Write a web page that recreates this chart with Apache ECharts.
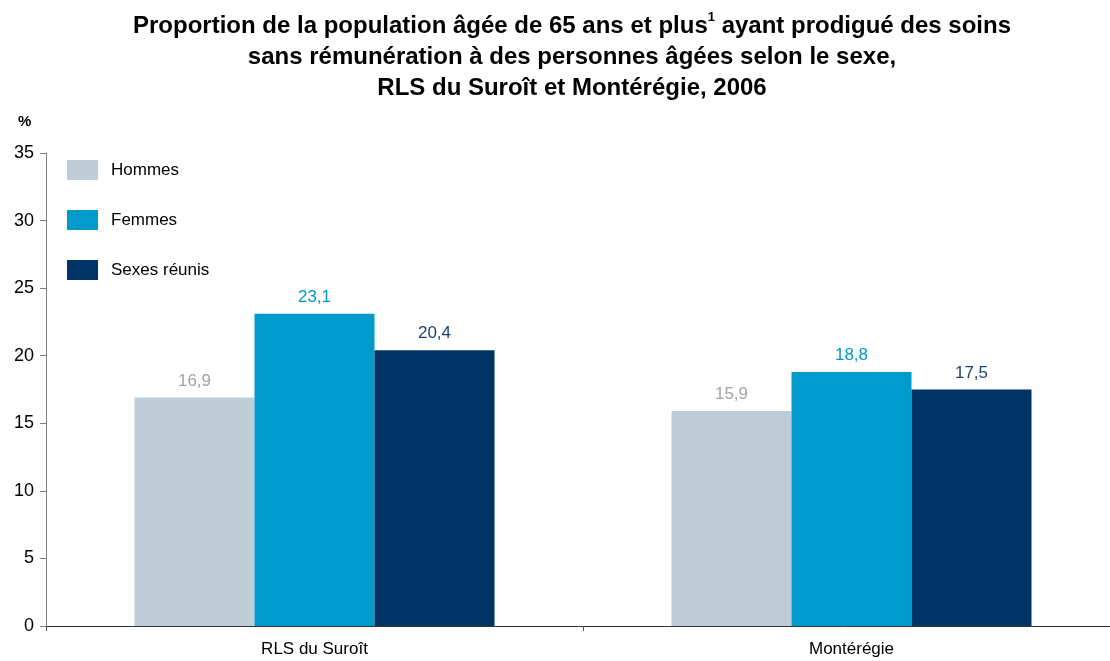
<!DOCTYPE html>
<html>
<head>
<meta charset="utf-8">
<script src="https://cdn.jsdelivr.net/npm/echarts@6/dist/echarts.min.js"></script>
<style>
  html, body { margin: 0; padding: 0; background: #fff; }
  #chart { width: 1110px; height: 661px; }
</style>
</head>
<body>
<div id="chart"></div>
<script>
const categories = ["RLS du Suroît", "Montérégie"]
const hommes = [16.9, 15.9]
const femmes = [23.1, 18.8]
const sexesReunis = [20.4, 17.5]
const seriesNames = ["Hommes", "Femmes", "Sexes réunis"]
const barColors = ["#bfcdd9", "#009bcc", "#003466"]
const labelColors = ["#a3a3a3", "#0099cc", "#1f3f6e"]

const font = "Liberation Sans, Arial, sans-serif"
const fmt = (p) => String(p.value).replace(".", ",")

const chart = echarts.init(document.getElementById("chart"))

const makeSeries = (name, data, i) => ({
    name,
    type: "bar",
    data,
    barWidth: 120,
    barGap: "0%",
    itemStyle: { color: barColors[i] },
    label: {
        show: true,
        position: "top",
        distance: 8,
        formatter: fmt,
        color: labelColors[i],
        fontFamily: font,
        fontSize: 17,
    },
    emphasis: { disabled: true },
})

chart.setOption({
    animation: false,
    textStyle: { fontFamily: font },
    title: {
        left: 567,
        top: 6,
        textAlign: "center",
        text: "{b|Proportion de la population âgée de 65 ans et plus}{s|1}{b| ayant prodigué des soins}\n{b|sans rémunération à des personnes âgées selon le sexe,}\n{b|RLS du Suroît et Montérégie, 2006}",
        textStyle: {
            rich: {
                b: {
                    fontFamily: font,
                    fontSize: 24,
                    fontWeight: "bold",
                    color: "#000",
                    lineHeight: 31,
                },
                s: {
                    fontFamily: font,
                    fontSize: 13,
                    fontWeight: "bold",
                    color: "#000",
                    verticalAlign: "top",
                    lineHeight: 16,
                },
            },
        },
    },
    graphic: [
        {
            type: "text",
            left: 18,
            top: 114,
            style: {
                text: "%",
                font: "bold 15px " + font,
                fill: "#000",
            },
        },
    ],
    legend: {
        orient: "vertical",
        left: 62,
        top: 155,
        itemWidth: 31,
        itemHeight: 20,
        itemGap: 30,
        icon: "rect",
        selectedMode: false,
        textStyle: { fontFamily: font, fontSize: 17, color: "#000", padding: [0, 0, 0, 8] },
        data: seriesNames,
    },
    grid: {
        left: 46,
        width: 1074,
        top: 153,
        height: 473,
        containLabel: false,
        outerBoundsMode: "none",
    },
    xAxis: {
        type: "category",
        data: categories,
        axisLine: { lineStyle: { color: "#333", width: 1 } },
        axisTick: { show: true, length: 5, lineStyle: { color: "#555" } },
        axisLabel: {
            color: "#000",
            fontFamily: font,
            fontSize: 17,
            margin: 15,
        },
    },
    yAxis: {
        type: "value",
        min: 0,
        max: 35,
        interval: 5,
        splitLine: { show: false },
        axisLine: { show: true, lineStyle: { color: "#808080", width: 1 } },
        axisTick: { show: true, length: 6, lineStyle: { color: "#808080" } },
        axisLabel: {
            color: "#000",
            fontFamily: font,
            fontSize: 18,
            margin: 12,
        },
    },
    series: [
        makeSeries(seriesNames[0], hommes, 0),
        makeSeries(seriesNames[1], femmes, 1),
        makeSeries(seriesNames[2], sexesReunis, 2),
    ],
})
</script>
</body>
</html>
